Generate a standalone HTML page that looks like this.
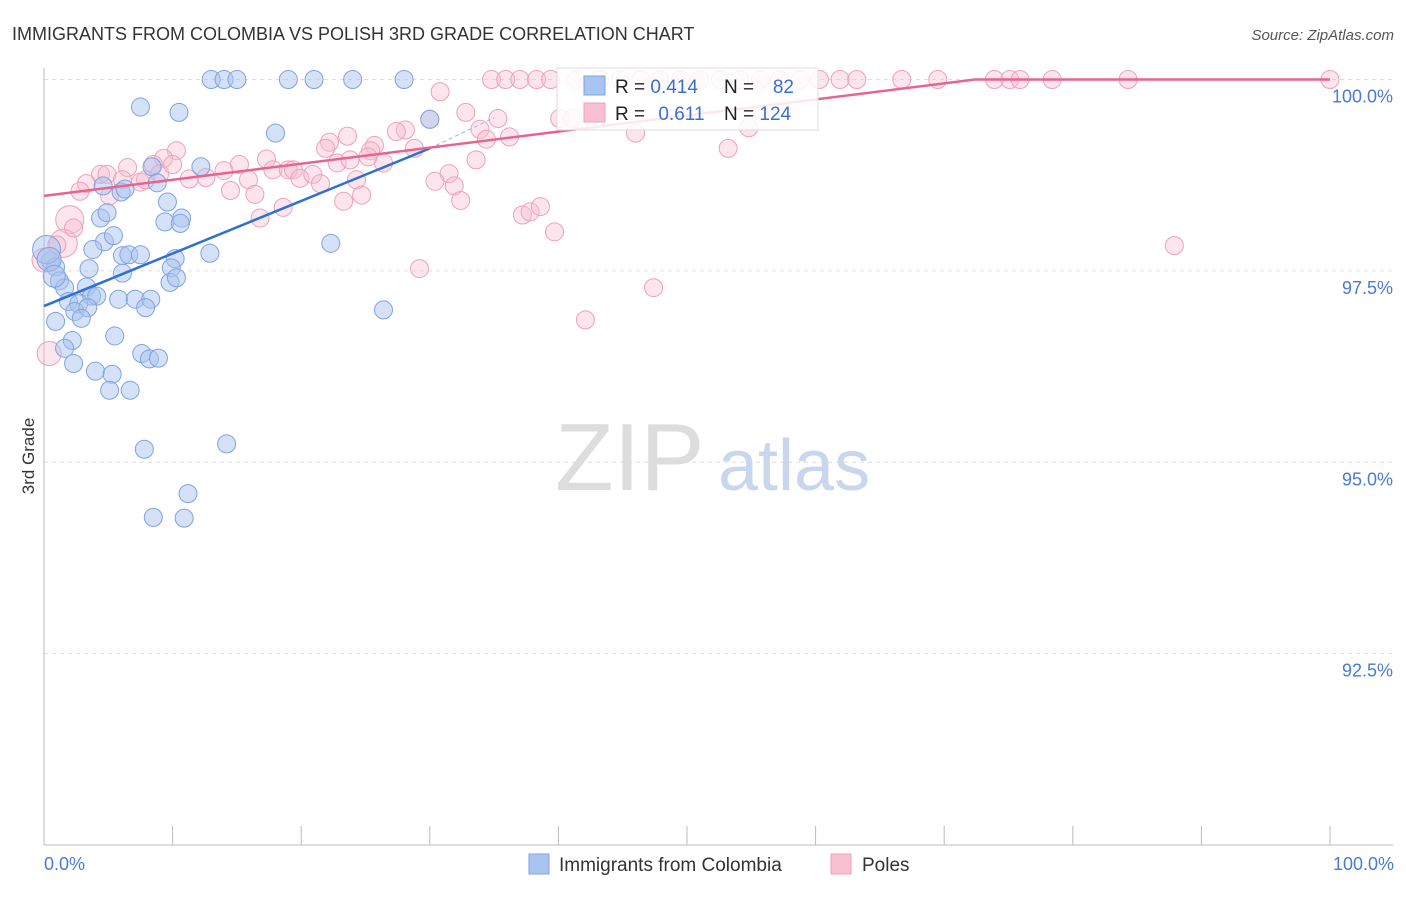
<!DOCTYPE html>
<html><head><meta charset="utf-8"><style>
body{margin:0;background:#fff;font-family:"Liberation Sans",sans-serif;}
svg text{font-family:"Liberation Sans",sans-serif;}
</style></head><body>
<svg id="chart" width="1406" height="892">
<text x="12" y="40" font-size="18" fill="#333">IMMIGRANTS FROM COLOMBIA VS POLISH 3RD GRADE CORRELATION CHART</text>
<text x="1394" y="40" font-size="15" fill="#555" font-style="italic" text-anchor="end">Source: ZipAtlas.com</text>
<text transform="translate(34,456) rotate(-90)" font-size="17" fill="#333" text-anchor="middle">3rd Grade</text>
<g id="grid"></g>
<text x="555" y="490" font-size="96" fill="#ddd" font-family="Liberation Serif">ZIP</text>
<text x="718" y="490" font-size="72" fill="#c9d7ee">atlas</text>
<g id="pts"></g>
<g id="lines"></g>
<g>
<rect x="557" y="68" width="261" height="62" fill="#fff" fill-opacity="0.85" stroke="#ddd"/>
<rect x="584" y="76" width="21" height="19" fill="#a9c4f0" stroke="#7fa3e0"/>
<rect x="584" y="103" width="21" height="19" fill="#f8c0d0" stroke="#f0a0b8"/>
<text x="615" y="93" font-size="19" fill="#222">R = <tspan fill="#3a6fd0">0.414</tspan></text>
<text x="724" y="93" font-size="19" fill="#222">N = </text><text x="794" y="93" font-size="19" fill="#3a6fd0" text-anchor="end">82</text>
<text x="615" y="120" font-size="19" fill="#222">R = <tspan fill="#3a6fd0" dx="8">0.611</tspan></text>
<text x="724" y="120" font-size="19" fill="#222">N = <tspan fill="#3a6fd0">124</tspan></text>
</g>
<g>
<rect x="529" y="854" width="20" height="20" fill="#a9c4f0" stroke="#7fa3e0"/>
<text x="559" y="871" font-size="19" fill="#333">Immigrants from Colombia</text>
<rect x="831" y="854" width="20" height="20" fill="#f8c0d0" stroke="#f0a0b8"/>
<text x="862" y="871" font-size="19" fill="#333">Poles</text>
</g>
<text x="44" y="870" font-size="18" fill="#4a7bd0">0.0%</text>
<text x="1394" y="870" font-size="18" fill="#4a7bd0" text-anchor="end">100.0%</text>
</svg>
<script>
const yTicks=[100,97.5,95,92.5];
const yTickLabels=["100.0%","97.5%","95.0%","92.5%"];
const blueX=[13,14,15,19,21,24,28,7.5,10.5,18,30,8.4,12.2,8.8,4.6,6,6.3,9.6,4.4,4.9,9.4,10.7,10.6,4.7,5.4,3.8,6.1,6.6,7.5,12.9,22.3,10.2,9.9,3.5,6.1,0.5,0.9,1.2,9.8,10.3,1.6,3.3,3.7,4.1,1.9,2.7,5.8,7.1,8.3,7.9,2.4,3.4,26.4,0.9,2.9,5.5,2.2,1.6,7.6,8.2,8.9,2.3,4.0,5.3,5.1,6.7,7.8,14.2,11.2,8.5,10.9,0.2,0.4,0.8];
const blueY=[100,100,100,100,100,100,100,99.64,99.57,99.3,99.48,98.86,98.86,98.65,98.61,98.53,98.57,98.4,98.19,98.26,98.14,98.19,98.12,97.88,97.96,97.78,97.7,97.71,97.71,97.73,97.86,97.66,97.54,97.53,97.47,97.63,97.55,97.37,97.35,97.41,97.28,97.29,97.17,97.17,97.1,97.07,97.13,97.13,97.13,97.02,96.97,97.02,96.99,96.84,96.88,96.65,96.59,96.49,96.42,96.35,96.36,96.29,96.19,96.15,95.94,95.94,95.17,95.24,94.59,94.28,94.27,97.78,97.65,97.43];
const blueS=[9,9,9,9,9,9,9,9,9,9,9,9,9,9,9,9,9,9,9,9,9,9,9,9,9,9,9,9,9,9,9,9,9,9,9,9,9,9,9,9,9,9,9,9,9,9,9,9,9,9,9,9,9,9,9,9,9,9,9,9,9,9,9,9,9,9,9,9,9,9,9,14,12,11];
const pinkX=[34.8,35.9,37,38.3,39.4,41.4,43.2,44.8,46.4,47.9,49.5,51,52.6,54.1,55.7,57.2,58.8,60.3,61.9,63.2,66.7,69.5,73.9,75.1,75.9,78.4,84.3,100,30.8,32.8,35.3,30,33.9,28.1,27.4,23.6,22.2,25.7,34.4,36.2,46,53.2,54.8,40.1,41.1,21.9,25.4,28.8,26.4,33.6,31.5,10.3,9.3,8.5,6.5,4.4,4.9,6.1,7.5,3.3,2.8,5.1,7.9,9,10,11.3,12.6,14,15.2,14.5,15.9,16.4,17.3,17.8,19,19.4,19.9,20.9,21.5,22.8,23.8,24.3,24.7,23.3,25.2,30.4,31.9,32.4,18.6,16.8,29.2,37.2,37.8,38.6,39.7,47.4,42.1,87.9,2,1.5,0.4,0,1,2.3];
const pinkY=[100,100,100,100,100,100,100,100,100,100,100,100,100,100,100,100,100,100,100,100,100,100,100,100,100,100,100,100,99.84,99.57,99.49,99.48,99.35,99.34,99.32,99.26,99.18,99.14,99.22,99.25,99.3,99.1,99.37,99.49,99.49,99.1,99.07,99.1,98.91,98.95,98.77,99.07,98.97,98.89,98.85,98.76,98.76,98.69,98.66,98.64,98.54,98.48,98.69,98.77,98.89,98.7,98.72,98.81,98.89,98.55,98.69,98.5,98.96,98.82,98.82,98.82,98.71,98.76,98.64,98.91,98.95,98.69,98.49,98.41,98.99,98.67,98.61,98.42,98.33,98.19,97.53,98.23,98.27,98.34,98.01,97.28,96.86,97.83,98.17,97.86,96.42,97.64,97.84,98.06];
const pinkS=pinkX.map((v,i)=>(i===98||i===99)?14:(i===101||i===100)?12:9);
const blueLine=[[0,97.04],[30,99.1]], blueDash=[[30,99.1],[35,99.5]];
const pinkLine=[[0,98.48],[72.4,100],[100,100]];
const X0=44,X1=1330,Ytop=79.5,Ybot=845;
const sx=v=>X0+(X1-X0)*v/100;
const sy=v=>Ytop+(100-v)*(Ybot-Ytop)/10;
const NS="http://www.w3.org/2000/svg";
function mk(t,a,p){const e=document.createElementNS(NS,t);for(const k in a)e.setAttribute(k,a[k]);p.appendChild(e);return e;}
const grid=document.getElementById('grid');
yTicks.forEach((t,i)=>{
 const l=mk('line',{x1:44,x2:1393,y1:sy(t),y2:sy(t),stroke:'#ddd','stroke-dasharray':'4,4'},grid);
 
 
 const tx=mk('text',{x:1393,y:sy(t)+23,'font-size':18,fill:'#4a7bd0','text-anchor':'end'},grid);
 tx.textContent=yTickLabels[i];
 
 
});
mk('line',{x1:44,x2:44,y1:68,y2:845,stroke:'#bbb'},grid);
mk('line',{x1:44,x2:1393,y1:845,y2:845,stroke:'#bbb'},grid);
for(let i=0;i<=10;i++){const t=mk('line',{x1:sx(i*10),x2:sx(i*10),y1:826,y2:845,stroke:'#bbb'},grid);
 
 }
const pts=document.getElementById('pts');
pinkX.forEach((x,i)=>{const c=mk('circle',{cx:sx(x),cy:sy(pinkY[i]),r:pinkS[i],fill:'#f8bfd0','fill-opacity':0.4,stroke:'#f0a0b8','stroke-width':1},pts);
 
 });
blueX.forEach((x,i)=>{const c=mk('circle',{cx:sx(x),cy:sy(blueY[i]),r:blueS[i],fill:'#a9c4f0','fill-opacity':0.5,stroke:'#7fa3e0','stroke-width':1},pts);
 
 });
const lines=document.getElementById('lines');
const pth=a=>a.map((p,i)=>(i?'L':'M')+sx(p[0])+','+sy(p[1])).join(' ');
const bl=mk('path',{d:pth(blueLine),stroke:'#2f6fd8','stroke-width':2.5,fill:'none'},lines);


const bd=mk('path',{d:pth(blueDash),stroke:'#9bb5e0','stroke-width':1,'stroke-dasharray':'4,3',fill:'none'},lines);


const pl=mk('path',{d:pth(pinkLine),stroke:'#e8648e','stroke-width':2.5,fill:'none'},lines);


</script>
</body></html>
